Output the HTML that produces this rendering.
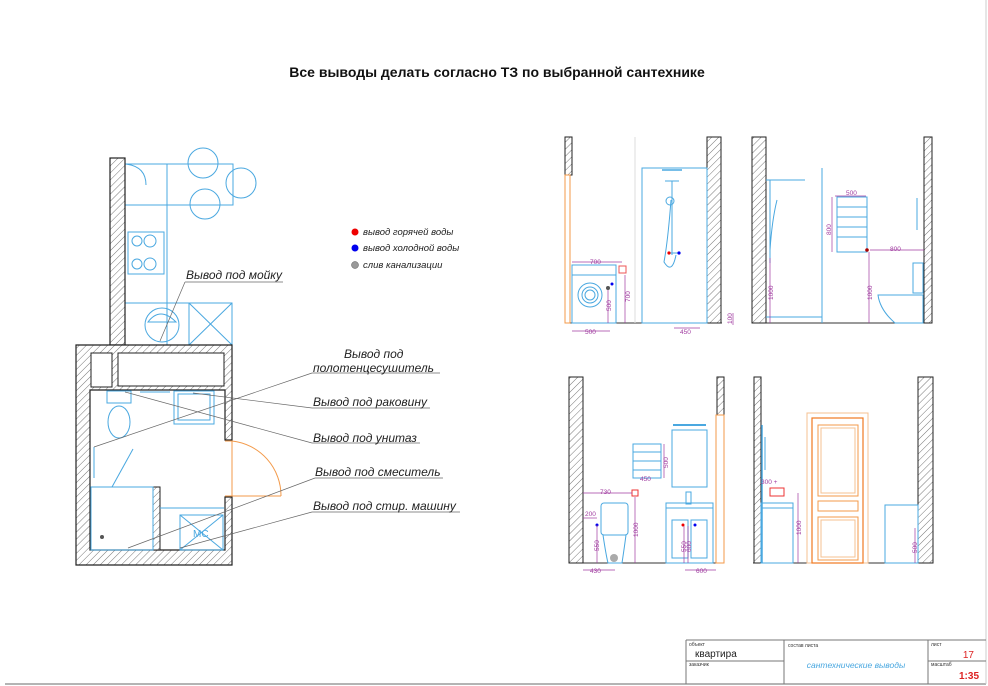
<!DOCTYPE html>
<html><head><meta charset="utf-8"><style>
html,body{margin:0;padding:0;background:#fff;}
svg{display:block;font-family:"Liberation Sans",sans-serif;}
</style></head><body>
<svg width="988" height="686" viewBox="0 0 988 686" xmlns="http://www.w3.org/2000/svg">
<defs>
<pattern id="h" width="5" height="5" patternUnits="userSpaceOnUse" patternTransform="rotate(45)">
<rect width="5" height="5" fill="#fff"/><line x1="0" y1="0" x2="0" y2="5" stroke="#777" stroke-width="1"/>
</pattern>
</defs>
<rect width="988" height="686" fill="#fff"/>
<line x1="5" y1="684" x2="986" y2="684" stroke="#888" stroke-width="1.2"/>
<line x1="986" y1="0" x2="986" y2="684" stroke="#ccc" stroke-width="1"/>
<text x="497" y="77" font-size="14" font-weight="bold" text-anchor="middle" fill="#111">Все выводы делать согласно ТЗ по выбранной сантехнике</text>

<g stroke="#4aa8e0" stroke-width="1" fill="none">
<rect x="125" y="164" width="108" height="41"/>
<line x1="167" y1="164" x2="167" y2="205"/>
<path d="M125 164 Q146 166 146 185"/>
<rect x="125" y="205" width="42" height="140"/>
<rect x="128" y="232" width="36" height="42"/>
<circle cx="137" cy="241" r="5"/><circle cx="150" cy="241" r="6"/><circle cx="137" cy="264" r="5"/><circle cx="150" cy="264" r="6"/>
<line x1="125" y1="303" x2="189" y2="303"/>
<rect x="189" y="303" width="43" height="42"/><line x1="189" y1="303" x2="232" y2="345"/><line x1="232" y1="303" x2="189" y2="345"/>
<circle cx="162" cy="325" r="17"/>
<path d="M148 322 Q160 306 176 322 Z"/>
<circle cx="203" cy="163" r="15"/><circle cx="241" cy="183" r="15"/><circle cx="205" cy="204" r="15"/>
</g>
<rect x="110" y="158" width="15" height="187" fill="url(#h)" stroke="#222" stroke-width="1.2"/>

<path d="M76 345 H232 V440 H225 V390 H90 V550 H225 V497 H232 V565 H76 Z" fill="url(#h)" stroke="#222" stroke-width="1.2"/>
<rect x="153" y="487" width="7" height="63" fill="url(#h)" stroke="#222" stroke-width="1"/>
<rect x="91" y="353" width="21" height="34" fill="#fff" stroke="#222"/>
<rect x="118" y="353" width="106" height="33" fill="#fff" stroke="#222"/>
<g stroke="#4aa8e0" stroke-width="1" fill="none">
<rect x="107" y="391" width="24" height="12"/>
<ellipse cx="119" cy="422" rx="11" ry="16"/>
<line x1="140" y1="392" x2="170" y2="392"/>
<rect x="174" y="391" width="40" height="33"/><rect x="178" y="394" width="32" height="26"/>
<line x1="94" y1="447" x2="94" y2="478"/><line x1="112" y1="487" x2="133" y2="449"/>
<rect x="91" y="487" width="62" height="63"/>
<line x1="160" y1="508" x2="224" y2="508"/>
<rect x="180" y="515" width="43" height="35"/><line x1="180" y1="515" x2="223" y2="550"/><line x1="223" y1="515" x2="180" y2="550"/>
</g>
<text x="193" y="537" font-size="10" fill="#4aa8e0">МС</text>
<circle cx="102" cy="537" r="2" fill="#555"/>
<g stroke="#f39a4a" stroke-width="1" fill="none">
<line x1="232" y1="441" x2="232" y2="496"/><line x1="225" y1="441" x2="232" y2="441"/><line x1="225" y1="496" x2="281" y2="496"/>
<path d="M232 441 A55 55 0 0 1 281 496"/>
</g>
<g stroke="#666" stroke-width="0.7" fill="none">
<line x1="160" y1="341" x2="185" y2="282"/><line x1="185" y1="282" x2="283" y2="282"/>
<line x1="94" y1="447" x2="312" y2="373"/><line x1="312" y1="373" x2="440" y2="373"/>
<line x1="193" y1="393" x2="312" y2="408"/><line x1="312" y1="408" x2="430" y2="408"/>
<line x1="125" y1="392" x2="312" y2="443"/><line x1="312" y1="443" x2="420" y2="443"/>
<line x1="128" y1="548" x2="315" y2="478"/><line x1="315" y1="478" x2="443" y2="478"/>
<line x1="180" y1="548" x2="312" y2="512"/><line x1="312" y1="512" x2="460" y2="512"/>
</g>
<g font-size="12" font-style="italic" fill="#222">
<text x="186" y="279">Вывод под мойку</text>
<text x="344" y="358">Вывод под</text>
<text x="313" y="372">полотенцесушитель</text>
<text x="313" y="406">Вывод под раковину</text>
<text x="313" y="442">Вывод под унитаз</text>
<text x="315" y="476">Вывод под смеситель</text>
<text x="313" y="510">Вывод под стир. машину</text>
</g>
<circle cx="355" cy="232" r="3.5" fill="#e00"/><circle cx="355" cy="248" r="3.5" fill="#00e"/><circle cx="355" cy="265" r="3.5" fill="#999" stroke="#555" stroke-width="0.5"/>
<g font-size="9.5" font-style="italic" fill="#222">
<text x="363" y="235">вывод горячей воды</text><text x="363" y="251">вывод холодной воды</text><text x="363" y="268">слив канализации</text>
</g>

<line x1="565" y1="323" x2="722" y2="323" stroke="#333"/>
<rect x="565" y="137" width="7" height="38" fill="url(#h)" stroke="#222"/>
<rect x="565" y="175" width="5" height="148" fill="none" stroke="#f39a4a"/>
<rect x="707" y="137" width="14" height="186" fill="url(#h)" stroke="#222"/>
<line x1="635" y1="137" x2="635" y2="323" stroke="#ddd"/>
<g stroke="#4aa8e0" fill="none">
<rect x="642" y="168" width="65" height="155"/>
<line x1="672" y1="181" x2="672" y2="255"/><line x1="665" y1="181" x2="679" y2="181"/>
<path d="M671 200 Q668 240 664 262 Q672 275 676 255"/>
<circle cx="670" cy="201" r="4"/>
<line x1="668" y1="253" x2="680" y2="253"/>
<rect x="572" y="265" width="44" height="58"/><line x1="572" y1="275" x2="616" y2="275"/>
<circle cx="590" cy="295" r="12"/><circle cx="590" cy="295" r="8"/><circle cx="590" cy="295" r="5"/>
</g>
<circle cx="669" cy="253" r="1.6" fill="#e00"/><circle cx="679" cy="253" r="1.6" fill="#00e"/>
<circle cx="608" cy="288" r="2" fill="#555"/><circle cx="612" cy="284" r="1.5" fill="#00e"/>
<rect x="619" y="266" width="7" height="7" fill="none" stroke="#e55"/>
<g stroke="#a03ca0" stroke-width="0.7" fill="none">
<line x1="572" y1="262" x2="622" y2="262"/><line x1="608" y1="290" x2="608" y2="323"/>
<line x1="625" y1="275" x2="625" y2="323"/><line x1="572" y1="331" x2="610" y2="331"/>
<line x1="674" y1="328" x2="700" y2="328"/><line x1="733" y1="313" x2="733" y2="325"/>
</g>
<g font-size="6.5" fill="#a03ca0">
<text x="590" y="264">700</text><text x="585" y="334">500</text><text x="680" y="334">450</text>
<text transform="translate(611,311) rotate(-90)">500</text><text transform="translate(630,302) rotate(-90)">700</text><text transform="translate(732,324) rotate(-90)">100</text>
</g>

<line x1="752" y1="323" x2="932" y2="323" stroke="#333"/>
<rect x="752" y="137" width="14" height="186" fill="url(#h)" stroke="#222"/>
<rect x="924" y="137" width="8" height="186" fill="url(#h)" stroke="#222"/>
<g stroke="#4aa8e0" fill="none">
<line x1="766" y1="180" x2="805" y2="180"/><line x1="770" y1="180" x2="770" y2="263"/>
<path d="M777 200 Q772 220 770 250"/>
<line x1="822" y1="168" x2="822" y2="323"/><line x1="766" y1="317" x2="822" y2="317"/>
<rect x="837" y="197" width="30" height="55"/>
<line x1="837" y1="207" x2="867" y2="207"/><line x1="837" y1="217" x2="867" y2="217"/><line x1="837" y1="227" x2="867" y2="227"/><line x1="837" y1="237" x2="867" y2="237"/>
<line x1="917" y1="198" x2="917" y2="230"/>
<rect x="913" y="263" width="10" height="30"/>
<path d="M878 295 H923 V323 H895 Q880 310 878 295 Z"/>
</g>
<circle cx="867" cy="250" r="1.8" fill="#a00"/>
<g stroke="#a03ca0" stroke-width="0.7" fill="none">
<line x1="835" y1="196" x2="866" y2="196"/><line x1="832" y1="197" x2="832" y2="252"/>
<line x1="870" y1="250" x2="924" y2="250"/><line x1="869" y1="252" x2="869" y2="323"/><line x1="770" y1="258" x2="770" y2="323"/>
</g>
<g font-size="6.5" fill="#a03ca0">
<text x="846" y="195">500</text><text x="890" y="251">800</text>
<text transform="translate(831,235) rotate(-90)">800</text><text transform="translate(872,300) rotate(-90)">1000</text><text transform="translate(773,300) rotate(-90)">1000</text>
</g>

<line x1="569" y1="563" x2="724" y2="563" stroke="#333"/>
<rect x="569" y="377" width="14" height="186" fill="url(#h)" stroke="#222"/>
<rect x="717" y="377" width="7" height="38" fill="url(#h)" stroke="#222"/>
<rect x="716" y="415" width="8" height="148" fill="none" stroke="#f39a4a"/>
<g stroke="#4aa8e0" fill="none">
<rect x="672" y="430" width="35" height="57"/><line x1="673" y1="425" x2="706" y2="425" stroke-width="2"/>
<rect x="633" y="444" width="28" height="34"/><line x1="633" y1="452" x2="661" y2="452"/><line x1="633" y1="461" x2="661" y2="461"/><line x1="633" y1="470" x2="661" y2="470"/>
<rect x="601" y="503" width="27" height="32" rx="3"/><path d="M603 535 Q606 555 608 563 H622 Q624 550 626 535"/>
<rect x="666" y="503" width="47" height="60"/><line x1="666" y1="508" x2="713" y2="508"/>
<rect x="672" y="520" width="16" height="38"/><rect x="691" y="520" width="16" height="38"/>
<rect x="686" y="492" width="5" height="12"/>
</g>
<circle cx="614" cy="558" r="4" fill="#aaa"/>
<rect x="632" y="490" width="6" height="6" fill="none" stroke="#e33"/>
<circle cx="683" cy="525" r="1.5" fill="#e00"/><circle cx="695" cy="525" r="1.5" fill="#00e"/><circle cx="597" cy="525" r="1.5" fill="#00e"/>
<g stroke="#a03ca0" stroke-width="0.7" fill="none">
<line x1="583" y1="493" x2="632" y2="493"/><line x1="635" y1="497" x2="635" y2="563"/><line x1="583" y1="518" x2="597" y2="518"/>
<line x1="597" y1="525" x2="597" y2="563"/><line x1="583" y1="570" x2="615" y2="570"/><line x1="685" y1="570" x2="716" y2="570"/>
<line x1="684" y1="526" x2="684" y2="563"/><line x1="688" y1="526" x2="688" y2="563"/><line x1="664" y1="444" x2="664" y2="478"/>
</g>
<g font-size="6.5" fill="#a03ca0">
<text x="600" y="494">730</text><text x="585" y="516">200</text><text x="640" y="481">450</text><text x="590" y="573">430</text><text x="696" y="573">600</text>
<text transform="translate(638,537) rotate(-90)">1000</text><text transform="translate(599,551) rotate(-90)">550</text><text transform="translate(686,552) rotate(-90)">550</text><text transform="translate(691,552) rotate(-90)">600</text><text transform="translate(668,468) rotate(-90)">500</text>
</g>

<line x1="753" y1="563" x2="933" y2="563" stroke="#333"/>
<rect x="754" y="377" width="7" height="186" fill="url(#h)" stroke="#222"/>
<rect x="918" y="377" width="15" height="186" fill="url(#h)" stroke="#222"/>
<g fill="none">
<rect x="807" y="413" width="61" height="150" stroke="#f5c090"/>
<rect x="812" y="418" width="51" height="145" stroke="#f07820" stroke-width="1.2"/>
<rect x="818" y="425" width="40" height="71" stroke="#f39a4a"/><rect x="821" y="428" width="34" height="65" stroke="#f5c090"/>
<rect x="818" y="501" width="40" height="10" stroke="#f39a4a"/>
<rect x="818" y="517" width="40" height="43" stroke="#f39a4a"/><rect x="821" y="520" width="34" height="37" stroke="#f5c090"/>
</g>
<g stroke="#4aa8e0" fill="none">
<line x1="762" y1="425" x2="762" y2="563" stroke-width="1.5"/><line x1="765" y1="437" x2="765" y2="470"/>
<rect x="761" y="503" width="32" height="60"/><line x1="761" y1="508" x2="793" y2="508"/>
<rect x="885" y="505" width="33" height="58"/>
</g>
<rect x="770" y="488" width="14" height="8" fill="none" stroke="#e33"/>
<g stroke="#a03ca0" stroke-width="0.7" fill="none">
<line x1="798" y1="493" x2="798" y2="563"/><line x1="915" y1="528" x2="915" y2="563"/>
</g>
<g font-size="6.5" fill="#a03ca0">
<text x="761" y="484">300 +</text>
<text transform="translate(801,535) rotate(-90)">1000</text><text transform="translate(917,553) rotate(-90)">500</text>
</g>

<g stroke="#777" stroke-width="1" fill="none">
<line x1="686" y1="640" x2="986" y2="640"/>
<line x1="686" y1="640" x2="686" y2="684"/><line x1="784" y1="640" x2="784" y2="684"/><line x1="928" y1="640" x2="928" y2="684"/>
<line x1="686" y1="661" x2="784" y2="661"/><line x1="928" y1="661" x2="986" y2="661"/>
</g>
<g font-size="5" fill="#333">
<text x="689" y="646">объект</text><text x="689" y="666">заказчик</text><text x="788" y="647">состав листа</text><text x="931" y="646">лист</text><text x="931" y="666">масштаб</text>
</g>
<text x="695" y="657" font-size="10" fill="#222">квартира</text>
<text x="856" y="668" font-size="8.5" font-style="italic" fill="#4aa8e0" text-anchor="middle">сантехнические выводы</text>
<text x="974" y="658" font-size="10" fill="#d22" text-anchor="end">17</text>
<text x="979" y="679" font-size="10" font-weight="bold" fill="#d22" text-anchor="end">1:35</text>
<line x1="662" y1="170" x2="682" y2="170" stroke="#4aa8e0" stroke-width="1.5"/>
</svg>
</body></html>
